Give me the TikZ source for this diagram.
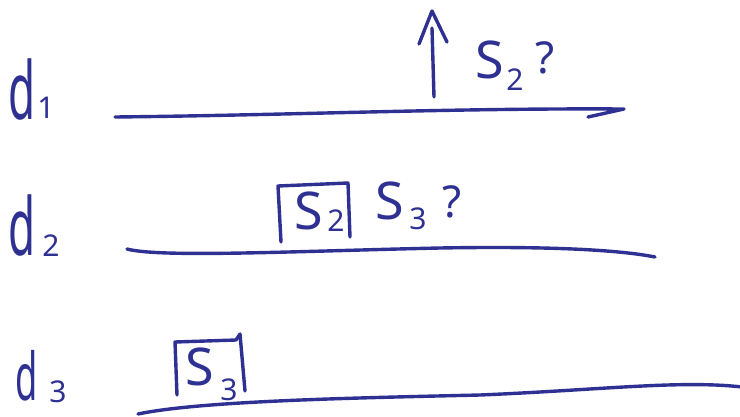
\documentclass[tikz,border=0pt]{standalone}
\usepackage{fontspec}
\usepackage{graphicx}
\setmainfont{Noto Sans}
\definecolor{ink}{RGB}{46,49,146}
\newcommand{\narrowd}{\scalebox{0.55}[1]{d}}
\tikzset{
  ink stroke/.style={draw=ink, line width=3.4pt, line cap=round, line join=round},
  big/.style={text=ink, inner sep=0pt, font=\fontsize{80}{80}\selectfont},
  bigs/.style={text=ink, inner sep=0pt, font=\fontsize{66}{66}\selectfont},
  letter/.style={text=ink, inner sep=0pt, font=\fontsize{52}{52}\selectfont},
  sub/.style={text=ink, inner sep=0pt, font=\fontsize{30}{30}\selectfont},
  quest/.style={text=ink, inner sep=0pt, font=\fontsize{44}{44}\selectfont},
}
\begin{document}
\begin{tikzpicture}[x=1pt,y=-1pt]
\useasboundingbox (0,0) rectangle (740,416);
% row 1
\node[big] (d1) at (22,89) {\narrowd};
\node[sub] (n1) at (46,108) {1};
\coordinate (l1a) at (115,117);
\coordinate (l1b) at (624,109);
\coordinate (l1c) at (588,117);
\draw[ink stroke] (l1a) .. controls (300,115) and (450,108) .. (l1b) -- (l1c);
\coordinate (arB) at (434,97);
\coordinate (arT) at (432,28);
\coordinate (arL) at (419,44);
\coordinate (arA) at (432,11);
\coordinate (arR) at (447,42);
\draw[ink stroke] (arB) -- (arT);
\draw[ink stroke] (arL) -- (arA) -- (arR);
\node[letter] (s1) at (490,60) {S};
\node[sub] (s1n) at (515,80) {2};
\node[quest] (q1) at (545,58) {?};
% row 2
\node[big] (d2) at (22,225) {\narrowd};
\node[sub] (n2) at (51,246) {2};
\coordinate (l2a) at (127,249);
\coordinate (l2m) at (440,248);
\coordinate (l2b) at (655,257);
\draw[ink stroke] (l2a) .. controls (160,258) and (300,251) .. (l2m) .. controls (550,246) and (620,250) .. (l2b);
\coordinate (b2a) at (281,242);
\coordinate (b2b) at (278,186);
\coordinate (b2c) at (348,183);
\coordinate (b2d) at (350,237);
\draw[ink stroke] (b2a) -- (b2b) -- (b2c) -- (b2d);
\node[letter] (s2) at (309,211) {S};
\node[sub] (s2n) at (336,221) {2};
\node[letter] (s3) at (390,201) {S};
\node[sub] (s3n) at (418,219) {3};
\node[quest] (q2) at (452,202) {?};
% row 3
\node[bigs] (d3) at (27,376) {\narrowd};
\node[sub] (n3) at (58,392) {3};
\coordinate (b3a) at (177,395);
\coordinate (b3b) at (175,342);
\coordinate (b3c) at (236,340);
\coordinate (b3d) at (240,334);
\coordinate (b3e) at (245,391);
\draw[ink stroke] (b3a) -- (b3b) -- (b3c) -- (b3d) -- (b3e);
\node[letter] (s4) at (200,367) {S};
\node[sub] (s4n) at (229,390) {3};
\coordinate (l3a) at (138,414);
\coordinate (l3m) at (480,395);
\coordinate (l3b) at (742,387);
\draw[ink stroke] (l3a) .. controls (200,401) and (350,398) .. (l3m) .. controls (600,390) and (680,380) .. (l3b);
\end{tikzpicture}
\end{document}
